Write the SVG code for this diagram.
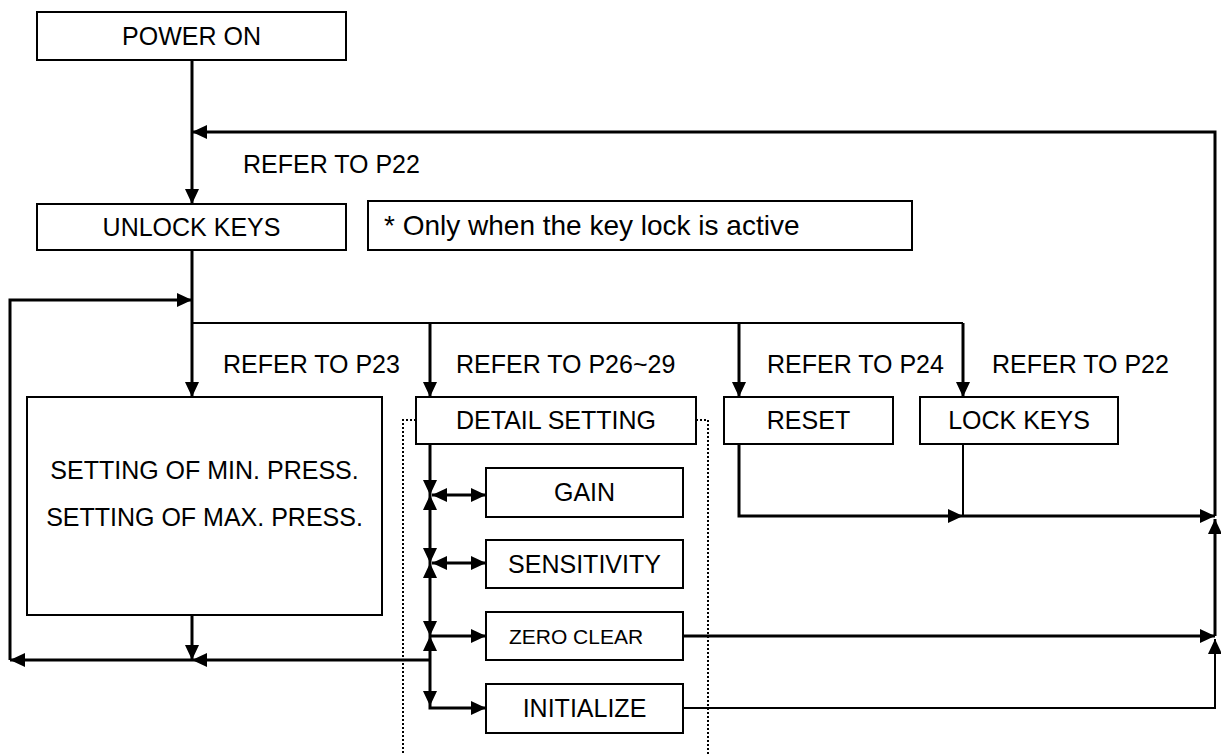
<svg xmlns="http://www.w3.org/2000/svg" width="1221" height="754" viewBox="0 0 1221 754">
  <style>
    .box { fill: #fff; stroke: #000; stroke-width: 2; }
    .lbl { font-family: "Liberation Sans", Arial, sans-serif; font-size: 25px; fill: #000; }
    .mid { text-anchor: middle; }
    .wire { fill: none; stroke: #000; stroke-width: 3; }
    .thin { fill: none; stroke: #000; stroke-width: 2; }
    .dots { fill: none; stroke: #000; stroke-width: 2; stroke-dasharray: 2 2; }
  </style>
  <defs>
    <marker id="ah" viewBox="0 0 15 14" refX="15" refY="7" markerWidth="15" markerHeight="14" markerUnits="userSpaceOnUse" orient="auto-start-reverse">
      <path d="M0,0 L15,7 L0,14 z" fill="#000"/>
    </marker>
  </defs>

  <rect width="1221" height="754" fill="#fff"/>

  <!-- dotted frame around the detail-setting sub menu -->
  <g id="detail-frame">
    <path class="dots" d="M416,420 H403 V754 M696,420 H708 V754"/>
  </g>

  <!-- connectors -->
  <g id="connectors">
    <!-- power on to unlock keys -->
    <path class="wire" d="M192,60 V204" marker-end="url(#ah)"/>
    <!-- return line from the right edge -->
    <path class="wire" d="M1215,516 V132 H192" marker-end="url(#ah)"/>
    <!-- unlock keys down to min/max setting -->
    <path class="wire" d="M192,250 V397" marker-end="url(#ah)"/>
    <!-- branch bus -->
    <path class="thin" d="M192,323 H963"/>
    <path class="wire" d="M430,323 V397" marker-end="url(#ah)"/>
    <path class="wire" d="M739,323 V397" marker-end="url(#ah)"/>
    <path class="wire" d="M963,323 V397" marker-end="url(#ah)"/>
    <!-- left loop back to the bus -->
    <path class="wire" d="M10,660 V300 H192" marker-end="url(#ah)"/>
    <path class="wire" d="M192,615 V660" marker-end="url(#ah)"/>
    <path class="wire" d="M430,660 H192" marker-end="url(#ah)"/>
    <path class="wire" d="M192,660 H10" marker-end="url(#ah)"/>
    <!-- detail-setting spine -->
    <path class="wire" d="M430,444 V495" marker-end="url(#ah)"/>
    <path class="wire" d="M430,495 V563" marker-start="url(#ah)" marker-end="url(#ah)"/>
    <path class="wire" d="M430,563 V636" marker-start="url(#ah)" marker-end="url(#ah)"/>
    <path class="wire" d="M430,636 V706" marker-start="url(#ah)" marker-end="url(#ah)"/>
    <!-- spine to sub items -->
    <path class="wire" d="M432,495 H486" marker-start="url(#ah)" marker-end="url(#ah)"/>
    <path class="wire" d="M432,563 H486" marker-start="url(#ah)" marker-end="url(#ah)"/>
    <path class="wire" d="M430,636 H486" marker-end="url(#ah)"/>
    <path class="wire" d="M430,706 V708 H486" marker-end="url(#ah)"/>
    <!-- reset / lock keys to the right edge -->
    <path class="wire" d="M739,444 V516 H963" marker-end="url(#ah)"/>
    <path class="thin" d="M963,444 V516"/>
    <path class="wire" d="M963,516 H1215" marker-end="url(#ah)"/>
    <!-- zero clear / initialize to the right edge -->
    <path class="wire" d="M683,636 H1215" marker-end="url(#ah)"/>
    <path class="wire" d="M1215,636 V519" marker-end="url(#ah)"/>
    <path class="thin" d="M683,708 H1215 V639" marker-end="url(#ah)"/>
  </g>

  <!-- labels on the connectors -->
  <g id="refs">
    <text class="lbl" x="243" y="173">REFER TO P22</text>
    <text class="lbl" x="223" y="373">REFER TO P23</text>
    <text class="lbl" x="456" y="373">REFER TO P26~29</text>
    <text class="lbl" x="767" y="373">REFER TO P24</text>
    <text class="lbl" x="992" y="373">REFER TO P22</text>
  </g>

  <g id="power-on">
    <rect class="box" x="37" y="12" width="309" height="48"/>
    <text class="lbl mid" x="191.5" y="45">POWER ON</text>
  </g>

  <g id="unlock-keys">
    <rect class="box" x="37" y="204" width="309" height="46"/>
    <text class="lbl mid" x="191.5" y="236">UNLOCK KEYS</text>
  </g>

  <g id="note">
    <rect class="box" x="368" y="201" width="544" height="49"/>
    <text class="lbl" x="384" y="235" style="font-size:28px">* Only when the key lock is active</text>
  </g>

  <g id="min-max-setting">
    <rect class="box" x="27" y="397" width="355" height="218"/>
    <text class="lbl mid" x="204.5" y="479">SETTING OF MIN. PRESS.</text>
    <text class="lbl mid" x="204.5" y="526">SETTING OF MAX. PRESS.</text>
  </g>

  <g id="detail-setting">
    <rect class="box" x="416" y="397" width="280" height="47"/>
    <text class="lbl mid" x="556" y="429">DETAIL SETTING</text>
  </g>

  <g id="reset">
    <rect class="box" x="724" y="397" width="169" height="47"/>
    <text class="lbl mid" x="808.5" y="429">RESET</text>
  </g>

  <g id="lock-keys">
    <rect class="box" x="920" y="397" width="198" height="47"/>
    <text class="lbl mid" x="1019" y="429">LOCK KEYS</text>
  </g>

  <g id="gain">
    <rect class="box" x="486" y="468" width="197" height="49"/>
    <text class="lbl mid" x="584.5" y="501">GAIN</text>
  </g>

  <g id="sensitivity">
    <rect class="box" x="486" y="540" width="197" height="48"/>
    <text class="lbl mid" x="584.5" y="573">SENSITIVITY</text>
  </g>

  <g id="zero-clear">
    <rect class="box" x="486" y="612" width="197" height="48"/>
    <text class="lbl mid" x="576" y="644" style="font-size:21px">ZERO CLEAR</text>
  </g>

  <g id="initialize">
    <rect class="box" x="486" y="684" width="197" height="49"/>
    <text class="lbl mid" x="584.5" y="717">INITIALIZE</text>
  </g>
</svg>
